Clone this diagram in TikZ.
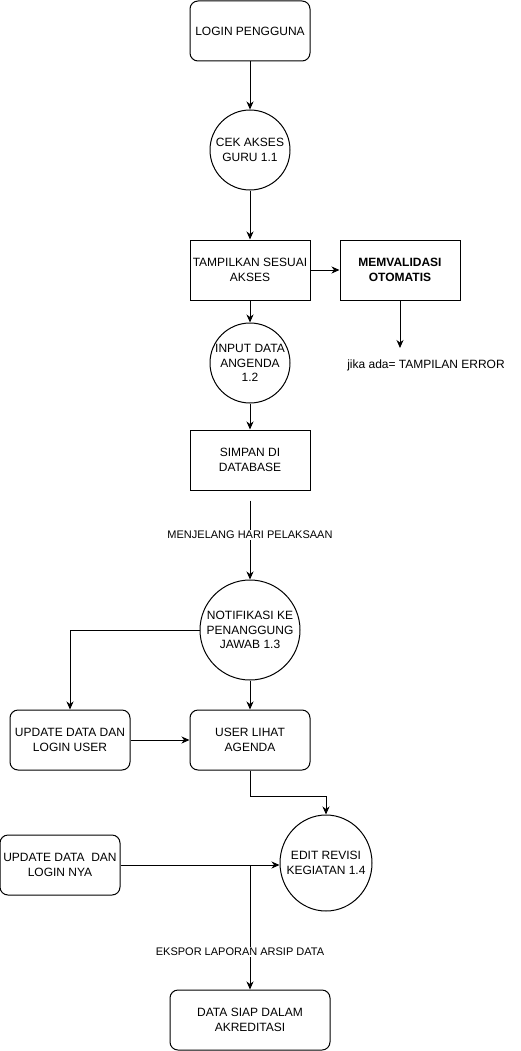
\documentclass[tikz,border=0pt]{standalone}
\usepackage{fontspec}
\setmainfont{Liberation Sans}
\usetikzlibrary{arrows.meta,shapes.geometric,positioning}
\tikzset{
  base/.style={draw=black, line width=1pt, align=center, inner sep=2pt,
    font=\fontsize{12pt}{14.5pt}\selectfont},
  rbox/.style={base, rectangle, rounded corners=8pt, minimum width=120pt, minimum height=60pt},
  sbox/.style={base, rectangle, minimum width=120pt, minimum height=60pt},
  proc/.style={base, circle, minimum size=#1, inner sep=0pt},
  conn/.style={draw=black, line width=1pt, -{Stealth[length=8pt,width=7pt,inset=2.5pt]}},
  elabel/.style={fill=white, inner sep=1pt, font=\fontsize{11pt}{13pt}\selectfont},
  txt/.style={inner sep=0pt, align=center, font=\fontsize{12pt}{14.5pt}\selectfont}
}
\begin{document}
\begin{tikzpicture}[x=1pt,y=-1pt]
\useasboundingbox (0,0) rectangle (521,1051);
\node[rbox] (login) at (250,31) {LOGIN PENGGUNA};
\node[proc=80pt] (cek) at (250,150) {CEK AKSES\\GURU 1.1};
\node[sbox] (tampil) at (250,270) {TAMPILKAN SESUAI\\AKSES};
\node[sbox, font=\fontsize{12pt}{14.5pt}\selectfont\bfseries] (valid) at (400,270) {MEMVALIDASI\\OTOMATIS};
\coordinate (errpt) at (400,348);
\node[txt] (err) at (426,365) {jika ada= TAMPILAN ERROR};
\node[proc=80pt] (input) at (250,363) {INPUT DATA\\ANGENDA\\1.2};
\node[sbox] (simpan) at (250,460) {SIMPAN DI\\DATABASE};
\node[proc=100pt] (notif) at (250,630) {NOTIFIKASI KE\\PENANGGUNG\\JAWAB 1.3};
\node[rbox] (upd1) at (70,740) {UPDATE DATA DAN\\LOGIN USER};
\node[rbox] (lihat) at (250,740) {USER LIHAT\\AGENDA};
\node[base, ellipse, minimum width=92pt, minimum height=96pt, inner sep=0pt,
  label={[txt]center:{EDIT REVISI\\KEGIATAN 1.4}}] (edit) at (326,863) {};
\node[rbox] (upd2) at (60,865) {UPDATE DATA\ \ DAN\\LOGIN NYA};
\node[rbox, minimum width=160pt] (siap) at (250,1020) {DATA SIAP DALAM\\AKREDITASI};
\coordinate (split) at (siap.north |- upd2.east);

\draw[conn] (login) -- (cek);
\draw[conn] (cek) -- (tampil);
\draw[conn] (tampil) -- (valid);
\draw[conn] (valid.south) -- (errpt);
\draw[conn] (tampil) -- (input);
\draw[conn] (input) -- (simpan);
\draw[conn, shorten <=10pt] (simpan) -- node[elabel] {MENJELANG HARI PELAKSAAN} (notif);
\draw[conn] (notif.west) -| (upd1.north);
\draw[conn] (notif) -- (lihat);
\draw[conn] (upd1) -- (lihat);
\draw[conn] (lihat.south) -- ++(0,26) -| (edit.north);
\draw[conn] (upd2.east) -- (upd2.east -| edit.west);
\draw[conn] (split) -- node[elabel, pos=0.7, xshift=-10pt] {EKSPOR LAPORAN ARSIP DATA} (siap.north);
\end{tikzpicture}
\end{document}
